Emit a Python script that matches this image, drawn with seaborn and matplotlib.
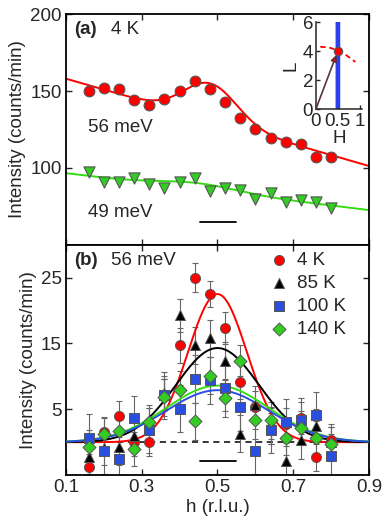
import numpy as np
import pandas as pd
import matplotlib
matplotlib.use("Agg")
import matplotlib.pyplot as plt
import seaborn as sns

# h positions of the scan points (r.l.u.)
h_pts = [0.16, 0.20, 0.24, 0.28, 0.32, 0.36, 0.40, 0.44, 0.48,
         0.52, 0.56, 0.60, 0.64, 0.68, 0.72, 0.76, 0.80]

# (a) raw scans at 4 K
int_56meV = [150.2, 151.7, 151.3, 144.2, 140.9, 145.0, 149.8, 156.5, 151.1,
             143.1, 132.3, 125.5, 119.7, 116.9, 115.6, 107.3, 107.3]
int_49meV = [97.0, 90.5, 90.5, 93.3, 89.6, 86.6, 90.9, 93.3, 84.9,
             86.6, 85.7, 79.9, 83.6, 77.9, 79.2, 77.7, 73.6]

# (b) background subtracted, 56 meV
temps = ['4 K', '85 K', '100 K', '140 K']
int_4K = [-3.8, 1.5, 4.0, 0.1, 0.1, 7.2, 14.7, 25.0, 22.5,
          17.3, 9.2, 5.3, 2.1, 2.8, 3.7, -2.3, 0.3]
int_85K = [-2.2, -0.9, -0.8, 0.9, 2.6, 7.5, 19.3, 14.7, 15.8,
           12.4, 1.3, 5.7, 2.6, -2.9, 0.3, 2.5, 0.1]
int_100K = [0.7, -1.4, -2.6, 3.6, 1.8, 7.1, 5.1, 9.6, 9.4,
            8.3, 5.3, -1.4, 1.8, 3.0, 3.3, 4.2, -2.1]
int_140K = [-0.7, 1.2, 1.7, -1.0, 3.1, 6.8, 8.0, 3.2, 10.1,
            6.7, 12.4, 3.3, 3.3, 0.6, 2.2, 0.6, -0.3]
err_4K = [2.0, 2.2, 2.2, 2.2, 2.2, 2.4, 2.6, 2.2, 2.0,
          2.4, 2.6, 2.4, 2.4, 2.4, 2.4, 2.0, 2.0]
err_85K = [2.6, 2.6, 2.6, 2.6, 2.6, 2.6, 2.5, 2.8, 2.8,
           2.8, 2.8, 2.8, 2.8, 2.8, 2.8, 2.6, 2.6]
err_100K = [3.6, 3.4, 3.4, 3.4, 3.4, 3.6, 3.6, 3.6, 3.6,
            3.6, 3.6, 3.4, 3.4, 3.6, 3.4, 3.4, 3.4]
err_140K = [2.6, 2.6, 2.6, 2.6, 2.6, 2.8, 2.8, 2.8, 2.8,
            2.8, 2.4, 2.8, 2.8, 2.6, 2.6, 2.6, 2.6]

# fit parameters: [bg at h=0.1, bg slope, amplitude, centre, sigma]
fit_56meV = [158.0, -71.0, 24.0, 0.482, 0.07]
fit_49meV = [96.5, -30.0, 4.0, 0.45, 0.10]
# bottom panel gaussians: amplitude, centre, sigma
fit_amp = [22.5, 14.3, 7.9, 8.6]
fit_cen = [0.50, 0.50, 0.50, 0.50]
fit_sig = [0.078, 0.11, 0.135, 0.135]

# inset: scan direction and dispersion
inset_H = [0.1, 0.3, 0.5, 0.7, 0.9]
inset_L = [4.3, 4.25, 4.05, 3.7, 3.25]
q_point = [0.5, 4.0]

colors = ['#ff0000', '#000000', '#2a4fe0', '#33cc22']
markers = ['o', '^', 's', 'D']
fs = 13.5

sns.set_style('ticks')
plt.rcParams['font.family'] = ['Liberation Sans', 'DejaVu Sans']
plt.rcParams['font.size'] = fs

fig, (ax1, ax2) = plt.subplots(2, 1, figsize=(3.88, 5.25), dpi=100, sharex=True)
fig.subplots_adjust(left=0.170, right=0.951, top=0.973, bottom=0.095, hspace=0)

h_fine = np.linspace(0.1, 0.9, 400)


def gauss(x, a, c, s):
    return a * np.exp(-(x - c) ** 2 / (2 * s ** 2))


def bg_peak(x, p):
    return p[0] + p[1] * (x - 0.1) + gauss(x, p[2], p[3], p[4])


# ---- panel (a)
sns.lineplot(x=h_fine, y=bg_peak(h_fine, fit_56meV), color='#ff0000', lw=1.4, ax=ax1)
sns.lineplot(x=h_fine, y=bg_peak(h_fine, fit_49meV), color='#33dd11', lw=1.4, ax=ax1)
sns.scatterplot(x=h_pts, y=int_56meV, color='#ff0000', marker='o', s=60,
                edgecolor='#555555', linewidth=0.8, ax=ax1, zorder=3)
sns.scatterplot(x=h_pts, y=int_49meV, color='#33cc22', marker='v', s=65,
                edgecolor='#555555', linewidth=0.8, ax=ax1, zorder=3)
ax1.plot([0.455, 0.55], [65, 65], color='k', lw=1.3)
ax1.set_ylim(50, 200)
ax1.set_yticks([100, 150, 200])
ax1.text(0.122, 190, '(a)', fontweight='bold', fontsize=fs, va='center')
ax1.text(0.219, 190, '4 K', fontsize=fs, va='center')
ax1.text(0.157, 126, '56 meV', fontsize=fs, va='center')
ax1.text(0.157, 71, '49 meV', fontsize=fs, va='center')
ax1.set_ylabel('Intensity (counts/min)', fontsize=fs, labelpad=3)

# ---- panel (b)
ax2.plot([0.15, 0.82], [0, 0], color='k', lw=1.1, ls=(0, (4, 3)))
ax2.plot([0.455, 0.55], [-2.9, -2.9], color='k', lw=1.3)
series = [int_4K, int_85K, int_100K, int_140K]
errs = [err_4K, err_85K, err_100K, err_140K]
for i in range(4):
    ax2.errorbar(h_pts, series[i], yerr=errs[i], fmt='none', ecolor='#666666',
                 elinewidth=0.8, capsize=2, capthick=0.8, zorder=2)
order = [0, 1, 3, 2]
for i in order:
    sns.lineplot(x=h_fine, y=gauss(h_fine, fit_amp[i], fit_cen[i], fit_sig[i]),
                 color=colors[i] if i != 3 else '#33dd11', lw=1.4, ax=ax2, zorder=4)
for i in range(4):
    sns.scatterplot(x=h_pts, y=series[i], color=colors[i], marker=markers[i],
                    s=52 if i != 3 else 44, edgecolor='#555555', linewidth=0.7,
                    ax=ax2, zorder=5, label=temps[i])
leg = ax2.legend(loc='upper left', bbox_to_anchor=(0.615, 1.0), frameon=False,
                 fontsize=fs, handletextpad=0.0, labelspacing=0.3,
                 borderaxespad=0.1, borderpad=0.3)
ax2.text(0.122, 27.6, '(b)', fontweight='bold', fontsize=fs, va='center')
ax2.text(0.219, 27.6, '56 meV', fontsize=fs, va='center')
ax2.set_ylim(-5, 30)
ax2.set_yticks([5, 15, 25])
ax2.set_xlim(0.1, 0.9)
ax2.set_xticks([0.1, 0.3, 0.5, 0.7, 0.9])
ax2.set_xticklabels(['0.1', '0.3', '0.5', '0.7', '0.9'])
ax2.set_xlabel('h (r.l.u.)', fontsize=fs, labelpad=2)
ax2.set_ylabel('Intensity (counts/min)', fontsize=fs, labelpad=3)

for ax in (ax1, ax2):
    ax.tick_params(direction='in', top=True, right=True, length=4, width=1,
                   labelsize=fs, pad=3)
    for sp in ax.spines.values():
        sp.set_linewidth(1.3)
        sp.set_color('k')
ax1.tick_params(labelbottom=False)

# ---- inset
axi = fig.add_axes([0.814, 0.792, 0.119, 0.166])
axi.patch.set_alpha(0)
axi.axvspan(0.44, 0.56, color='#9aaaf5', alpha=0.6, lw=0)
axi.axvline(0.5, color='#2a3ff0', lw=3.2)
axi.plot(inset_H, inset_L, color='#ff0000', ls=(0, (3, 2)), lw=1.3)
axi.annotate('', xy=(q_point[0], q_point[1]), xytext=(0, 0),
             arrowprops=dict(arrowstyle='-|>', color='#5a3535', lw=1.2,
                             mutation_scale=9, shrinkA=0, shrinkB=3,
                             fc='#ff0000'))
axi.plot([q_point[0]], [q_point[1]], 'o', color='#ff0000', mec='#555555',
         ms=6, mew=0.8, zorder=5)
axi.set_xlim(0, 1.05)
axi.set_ylim(0, 6)
axi.set_xticks([0, 0.5, 1])
axi.set_xticklabels(['0', '0.5', '1'])
axi.set_yticks([0, 2, 4, 6])
axi.set_xlabel('H', fontsize=fs, labelpad=0)
axi.set_ylabel('L', fontsize=fs, labelpad=2)
axi.tick_params(direction='in', length=3, width=1, labelsize=fs)
axi.tick_params(axis='x', pad=3)
axi.tick_params(axis='y', pad=2)
axi.spines['top'].set_visible(False)
axi.spines['right'].set_visible(False)
for sp in ('left', 'bottom'):
    axi.spines[sp].set_linewidth(1.1)

fig.savefig('out.png', dpi=100)
